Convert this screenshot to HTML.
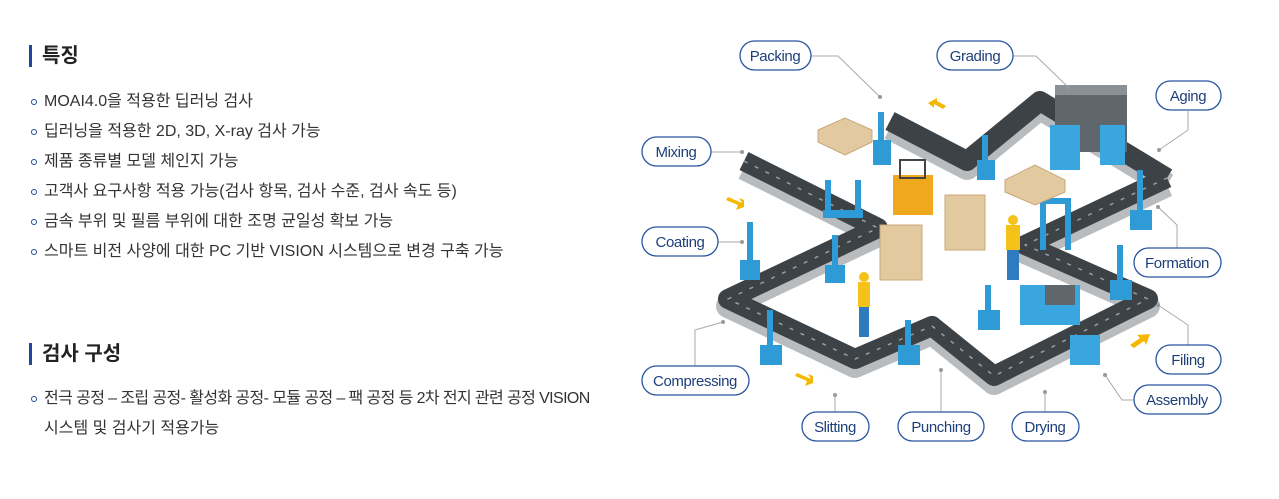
<!DOCTYPE html>
<html><head><meta charset="utf-8"><style>
body{margin:0;width:1279px;height:499px;background:#fff;overflow:hidden;position:relative;font-family:"Liberation Sans","Noto Sans CJK KR",sans-serif;color:#333}
.h{position:absolute;left:29px;font-size:20px;font-weight:bold;color:#222;border-left:3px solid #1a4a9c;padding-left:10px;line-height:22px}
.li{position:absolute;left:44px;font-size:16px;letter-spacing:0px;white-space:nowrap;line-height:20px}
.li:before{content:"";position:absolute;left:-13px;top:7px;width:4px;height:4px;border:1.5px solid #1a4a9c;border-radius:50%}
.nb:before{display:none}
svg{position:absolute;left:0;top:0}
</style></head><body>
<div class="h" style="top:45px">특징</div>
<div class="li" style="top:92px">MOAI4.0을 적용한 딥러닝 검사</div>
<div class="li" style="top:122px">딥러닝을 적용한 2D, 3D, X-ray 검사 가능</div>
<div class="li" style="top:152px">제품 종류별 모델 체인지 가능</div>
<div class="li" style="top:182px">고객사 요구사항 적용 가능(검사 항목, 검사 수준, 검사 속도 등)</div>
<div class="li" style="top:212px">금속 부위 및 필름 부위에 대한 조명 균일성 확보 가능</div>
<div class="li" style="top:242px">스마트 비전 사양에 대한 PC 기반 VISION 시스템으로 변경 구축 가능</div>
<div class="h" style="top:343px">검사 구성</div>
<div class="li" style="top:389px;letter-spacing:-0.6px">전극 공정 – 조립 공정- 활성화 공정- 모듈 공정 – 팩 공정 등 2차 전지 관련 공정 VISION</div>
<div class="li nb" style="top:419px">시스템 및 검사기 적용가능</div>
<svg width="1279" height="499" viewBox="0 0 1279 499">
<g fill="none" stroke-linejoin="round" stroke-linecap="butt">
<polyline points="744,168 878,235 728,306 855,366 932,333 994,383 1148,306 1025,252 1167,185" stroke="#b8bcbf" stroke-width="24"/>
<polyline points="890,128 967,168 1040,108 1167,185" stroke="#b8bcbf" stroke-width="24"/>
<polyline points="744,161 878,228 728,299 855,359 932,326 994,376 1148,299 1025,245 1167,178" stroke="#3c4246" stroke-width="20"/>
<polyline points="890,121 967,161 1040,101 1167,178" stroke="#3c4246" stroke-width="20"/>
<polyline points="744,161 878,228 728,299 855,359 932,326 994,376 1148,299 1025,245 1167,178" stroke="#8fa0a8" stroke-width="1.5" stroke-dasharray="4 8"/>
</g>
<rect x="1055" y="92" width="72" height="60" fill="#5f676c"/><rect x="1055" y="85" width="72" height="10" fill="#8a9196"/>
<rect x="1050" y="125" width="30" height="45" fill="#39a6e0"/><rect x="1100" y="125" width="25" height="40" fill="#39a6e0"/>
<rect x="1020" y="285" width="60" height="40" fill="#39a6e0"/><rect x="1045" y="285" width="30" height="20" fill="#5f676c"/>
<rect x="1070" y="335" width="30" height="30" fill="#39a6e0"/>
<g fill="#2e9ad6">
<rect x="873" y="140" width="18" height="25"/><rect x="878" y="112" width="6" height="30"/>
<rect x="977" y="160" width="18" height="20"/><rect x="982" y="135" width="6" height="28"/>
<rect x="823" y="210" width="40" height="8"/><rect x="825" y="180" width="6" height="35"/><rect x="855" y="180" width="6" height="35"/>
<rect x="740" y="260" width="20" height="20"/><rect x="747" y="222" width="6" height="40"/>
<rect x="825" y="265" width="20" height="18"/><rect x="832" y="235" width="6" height="32"/>
<rect x="760" y="345" width="22" height="20"/><rect x="767" y="310" width="6" height="36"/>
<rect x="898" y="345" width="22" height="20"/><rect x="905" y="320" width="6" height="28"/>
<rect x="978" y="310" width="22" height="20"/><rect x="985" y="285" width="6" height="28"/>
<rect x="1130" y="210" width="22" height="20"/><rect x="1137" y="170" width="6" height="42"/>
<rect x="1110" y="280" width="22" height="20"/><rect x="1117" y="245" width="6" height="36"/>
<rect x="1040" y="200" width="6" height="50"/><rect x="1065" y="200" width="6" height="50"/><rect x="1040" y="198" width="31" height="6"/>
</g>
<g fill="#e3c9a0" stroke="#c9a878" stroke-width="1">
<polygon points="818,130 845,118 872,130 872,142 845,155 818,142"/>
<polygon points="1005,180 1035,165 1065,180 1065,192 1035,205 1005,192"/>
<rect x="880" y="225" width="42" height="55"/>
<rect x="945" y="195" width="40" height="55"/>
</g>
<rect x="893" y="175" width="40" height="40" fill="#f0a81c"/><rect x="900" y="160" width="25" height="18" fill="none" stroke="#444" stroke-width="2"/>
<rect x="858" y="282" width="12" height="25" fill="#f5c21a"/><rect x="859" y="307" width="10" height="30" fill="#2e7bc0"/><circle cx="864" cy="277" r="5" fill="#f5c21a"/>
<rect x="1006" y="225" width="14" height="25" fill="#f5c21a"/><rect x="1007" y="250" width="12" height="30" fill="#2e7bc0"/><circle cx="1013" cy="220" r="5" fill="#f5c21a"/>
<g fill="#f5b800">
<polygon points="928,103 937,98 937,101 946,106 943,109 934,104 934,108"/>
<polygon points="728,197 742,203 739,198 744,200 744,207 736,210 738,205 726,200"/>
<polygon points="797,373 811,379 808,374 813,376 813,383 805,386 807,381 795,376"/>
<polygon points="1130,345 1140,338 1137,335 1150,334 1146,345 1144,341 1134,348"/>
</g>
<g stroke="#aaa" stroke-width="1" fill="none">
<polyline points="811,56 838,56 880,97"/><polyline points="1013,56 1036,56 1068,87"/>
<polyline points="1188,111 1188,130 1159,150"/><polyline points="711,152 742,152"/>
<polyline points="718,242 742,242"/><polyline points="1177,248 1177,225 1158,207"/>
<polyline points="1188,345 1188,325 1158,305"/><polyline points="695,366 695,330 723,322"/>
<polyline points="1134,400 1122,400 1105,375"/><polyline points="835,412 835,395"/>
<polyline points="941,412 941,370"/><polyline points="1045,412 1045,392"/>
</g>
<g fill="#999"><circle cx="880" cy="97" r="2"/><circle cx="1068" cy="87" r="2"/><circle cx="1159" cy="150" r="2"/><circle cx="742" cy="152" r="2"/><circle cx="742" cy="242" r="2"/><circle cx="1158" cy="207" r="2"/><circle cx="1158" cy="305" r="2"/><circle cx="723" cy="322" r="2"/><circle cx="1105" cy="375" r="2"/><circle cx="835" cy="395" r="2"/><circle cx="941" cy="370" r="2"/><circle cx="1045" cy="392" r="2"/></g>
<g fill="#fff" stroke="#2a55a0" stroke-width="1.3">
<rect x="740" y="41" width="71" height="29" rx="14.5"/><rect x="937" y="41" width="76" height="29" rx="14.5"/>
<rect x="1156" y="81" width="65" height="29" rx="14.5"/><rect x="642" y="137" width="69" height="29" rx="14.5"/>
<rect x="642" y="227" width="76" height="29" rx="14.5"/><rect x="1134" y="248" width="87" height="29" rx="14.5"/>
<rect x="1156" y="345" width="65" height="29" rx="14.5"/><rect x="642" y="366" width="107" height="29" rx="14.5"/>
<rect x="1134" y="385" width="87" height="29" rx="14.5"/><rect x="802" y="412" width="67" height="29" rx="14.5"/>
<rect x="898" y="412" width="86" height="29" rx="14.5"/><rect x="1012" y="412" width="67" height="29" rx="14.5"/>
</g>
<g fill="#1e3f7a" font-size="15" text-anchor="middle" font-family="Liberation Sans, sans-serif" letter-spacing="-0.4">
<text x="775" y="61">Packing</text><text x="975" y="61">Grading</text><text x="1188" y="101">Aging</text>
<text x="676" y="157">Mixing</text><text x="680" y="247">Coating</text><text x="1177" y="268">Formation</text>
<text x="1188" y="365">Filing</text><text x="695" y="386">Compressing</text><text x="1177" y="405">Assembly</text>
<text x="835" y="432">Slitting</text><text x="941" y="432">Punching</text><text x="1045" y="432">Drying</text>
</g>
</svg>
</body></html>
